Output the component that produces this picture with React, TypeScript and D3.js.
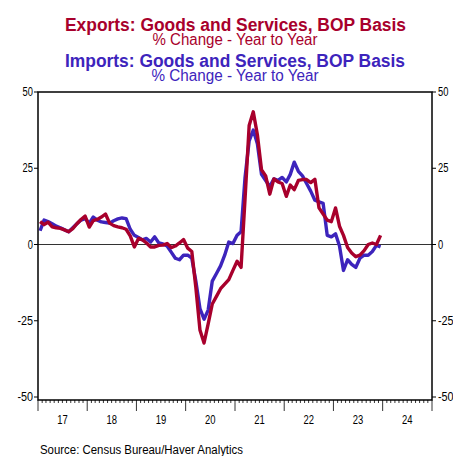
import { line, scaleLinear, scaleTime, timeMonth, timeYear } from "d3";

// monthly y/y % change, Jan 2017 .. Dec 2023
const firstMonth = new Date(2017, 0, 1);
const exportsYoY = [
  7.5, 6.5, 7.3, 5.8, 5.5, 5.3, 4.8, 4.2, 5.2, 6.8, 8.2, 9.3,
  5.7, 7.8, 8.2, 9, 10, 7, 6.2, 5.8, 5.5, 5, 2.8, -0.8,
  2, 1.5, 0.5, -0.8, -0.8, -0.3, -0.2, 0.3, -1, -0.5, 0.5, 1.6,
  -1.2, -2.3, -14, -28, -32.3, -26, -19.5, -17, -14.5, -13, -11.5, -8.5,
  -5.5, -7.5, 15, 39, 43.5, 36, 24.5, 22.5, 16.5, 21.5, 20.5, 20,
  15.8, 19.5, 18, 21, 21.3, 21.3, 20.3, 21.4, 12, 10, 8, 7.5,
  12, 6, 3, -1, -2.8, -4, -3.5, -2, 0, 0.5, 0, 3,
];
const importsYoY = [
  4.5, 8, 7.5, 6.8, 6, 5.5, 4.8, 4.2, 5.5, 6.8, 8, 8.5,
  7, 9, 8, 7.4, 7.2, 7, 7.8, 8.4, 8.7, 8.5, 5, 3,
  2.3, 1.5, 2, 0.8, 2.5, 0.5, 0.2, -0.5, -2.5, -4.5, -5, -3.5,
  -3.5, -4.5, -12, -21, -24.5, -21.5, -12, -9.5, -7, -3.5, 0.8, 0.3,
  3, 4.2, 22, 34, 37.5, 33, 23, 21, 19, 21.5, 21, 22,
  20.5, 23, 27, 24, 22.5, 20, 17.5, 14.5, 14, 13.5, 3, 2.5,
  3.5, -0.5, -8.5, -5, -6.5, -7.5, -4.5, -3.5, -3.5, -2.3, -0.3, -0.8,
];
const yTicks = [50, 25, 0, -25, -50];
const yearLabels = ["17", "18", "19", "20", "21", "22", "23", "24"];

const red = "#a8002c";
const blue = "#3d24bc";
const font = "Arial, 'Liberation Sans', sans-serif";

const left = 38;
const right = 432;
const top = 92;
const bottom = 400;

export default function App() {
  const x = scaleTime()
    .domain([new Date(2017, 0, 1), new Date(2025, 0, 1)])
    .range([left, right]);
  const y = scaleLinear().domain([-50, 50]).range([bottom - 3, top]);

  const midMonth = (i: number) => {
    const a = timeMonth.offset(firstMonth, i);
    const b = timeMonth.offset(firstMonth, i + 1);
    return (x(a) + x(b)) / 2;
  };
  const path = line<number>()
    .x((_, i) => midMonth(i))
    .y((d) => y(d));

  const months = timeMonth.range(new Date(2017, 0, 1), new Date(2025, 0, 2));
  const years = timeYear.range(new Date(2017, 0, 1), new Date(2025, 0, 1));

  return (
    <svg width={453} height={456} style={{ display: "block", position: "absolute", left: 0, top: 0 }} fontFamily={font}>
      <rect width={453} height={456} fill="#fff" />
      {/* titles */}
      <g textAnchor="middle">
        <text x={235.5} y={31} fontSize={18} fontWeight="bold" fill={red} textLength={341} lengthAdjust="spacingAndGlyphs">
          Exports: Goods and Services, BOP Basis
        </text>
        <text x={235} y={44.5} fontSize={16} fill={red} textLength={165} lengthAdjust="spacingAndGlyphs">
          % Change - Year to Year
        </text>
        <text x={235} y={66.5} fontSize={18} fontWeight="bold" fill={blue} textLength={340} lengthAdjust="spacingAndGlyphs">
          Imports: Goods and Services, BOP Basis
        </text>
        <text x={235} y={80.5} fontSize={16} fill={blue} textLength={167} lengthAdjust="spacingAndGlyphs">
          % Change - Year to Year
        </text>
      </g>

      {/* y axes */}
      {yTicks.map((t) => (
        <g key={t}>
          <line x1={left - 4} x2={left} y1={y(t)} y2={y(t)} stroke="#000" />
          <line x1={right} x2={right + 4} y1={y(t)} y2={y(t)} stroke="#000" />
          <text x={left - 5} y={y(t) + 4} fontSize={12} textAnchor="end" textLength={String(t).length * 5.2} lengthAdjust="spacingAndGlyphs">
            {t}
          </text>
          <text x={right + 6} y={y(t) + 4} fontSize={12} textLength={String(t).length * 5.2} lengthAdjust="spacingAndGlyphs">
            {t}
          </text>
        </g>
      ))}

      {/* zero line */}
      <line x1={left} x2={right} y1={y(0)} y2={y(0)} stroke="#333" strokeWidth={1} />

      {/* series */}
      <path d={path(importsYoY) ?? ""} fill="none" stroke={blue} strokeWidth={3.4} strokeLinejoin="round" />
      <path d={path(exportsYoY) ?? ""} fill="none" stroke={red} strokeWidth={3.4} strokeLinejoin="round" />

      {/* frame */}
      <rect x={left} y={top} width={right - left} height={bottom - top} fill="none" stroke="#000" strokeWidth={1.5} />

      {/* x axis ticks */}
      {months.map((m) => {
        const major = m.getMonth() === 0;
        return (
          <line
            key={m.getTime()}
            x1={x(m)}
            x2={x(m)}
            y1={bottom}
            y2={bottom + (major ? 11 : 3)}
            stroke="#000"
            strokeWidth={0.8}
          />
        );
      })}
      {years.map((yr, i) => (
        <text
          key={yr.getTime()}
          x={(x(yr) + x(timeYear.offset(yr, 1))) / 2}
          y={424}
          fontSize={13}
          textAnchor="middle"
          textLength={10.5}
          lengthAdjust="spacingAndGlyphs"
        >
          {yearLabels[i]}
        </text>
      ))}

      <text x={40} y={454} fontSize={12} textLength={203} lengthAdjust="spacingAndGlyphs">
        Source:  Census Bureau/Haver Analytics
      </text>
    </svg>
  );
}
